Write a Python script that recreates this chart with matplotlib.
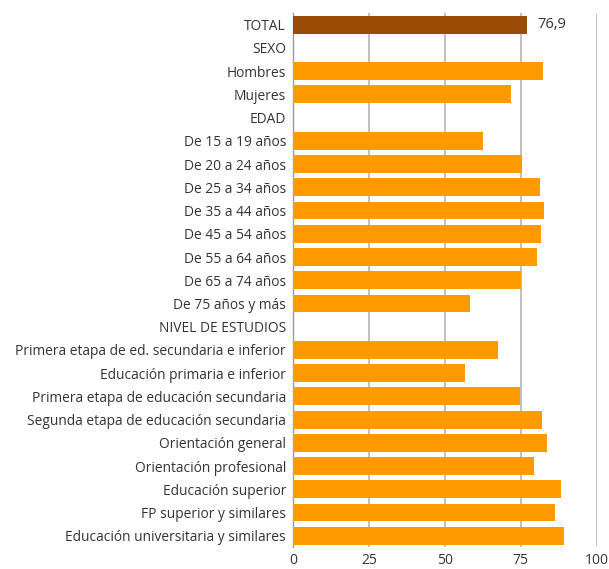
import matplotlib.pyplot as plt

categories = [
    'TOTAL', 'SEXO', 'Hombres', 'Mujeres', 'EDAD',
    'De 15 a 19 años', 'De 20 a 24 años', 'De 25 a 34 años', 'De 35 a 44 años',
    'De 45 a 54 años', 'De 55 a 64 años', 'De 65 a 74 años', 'De 75 años y más',
    'NIVEL DE ESTUDIOS',
    'Primera etapa de ed. secundaria e inferior',
    'Educación primaria e inferior',
    'Primera etapa de educación secundaria',
    'Segunda etapa de educación secundaria',
    'Orientación general',
    'Orientación profesional',
    'Educación superior',
    'FP superior y similares',
    'Educación universitaria y similares',
]
# None = section header row with no bar
values = [
    76.9, None, 82.2, 71.7, None,
    62.5, 75.5, 81.4, 82.5, 81.6, 80.2, 74.9, 58.3,
    None,
    67.4, 56.7, 74.8, 81.9, 83.5, 79.3, 88.3, 86.1, 89.2,
]
xticks = [0, 25, 50, 75, 100]

plt.rcParams['font.family'] = ['Open Sans', 'DejaVu Sans']

fig = plt.figure(figsize=(6.09, 5.69), dpi=100)
ax = fig.add_axes([0.481, 0.038, 0.499, 0.939])

y = list(range(len(categories)))
for i, v in enumerate(values):
    if v is None:
        continue
    color = '#994a03' if categories[i] == 'TOTAL' else '#ff9a00'
    ax.barh(i, v, height=0.77, color=color, zorder=3)

ax.text(values[0] + 3.5, 0, '76,9', va='center', ha='left',
        fontsize=10.5, color='#333333')

ax.set_ylim(len(categories) - 0.5, -0.5)
ax.set_xlim(0, 100)
ax.set_yticks(y)
ax.set_yticklabels(categories, fontsize=9.9, color='#333333')
ax.set_xticks(xticks)
ax.set_xticklabels([str(t) for t in xticks], fontsize=10, color='#333333')
ax.tick_params(length=0, pad=5)
ax.tick_params(axis='x', pad=4)

ax.grid(axis='x', color='#b5b5b5', linewidth=1.2, zorder=0)
for s in ['top', 'right', 'bottom']:
    ax.spines[s].set_visible(False)
ax.spines['left'].set_color('#999999')
ax.spines['left'].set_linewidth(1)

fig.savefig('out.png', dpi=100)
